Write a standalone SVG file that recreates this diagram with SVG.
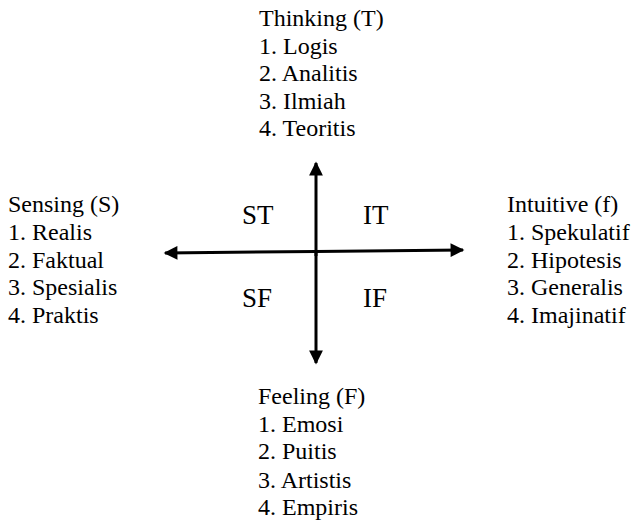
<svg xmlns="http://www.w3.org/2000/svg" width="634" height="526" viewBox="0 0 634 526">
<defs>
<style>
text{font-family:"Liberation Serif","Times New Roman",serif;fill:#000}
.t{font-size:24px}
.q{font-size:27px}
.ax{stroke:#000;stroke-width:3;fill:none}
</style>
<marker id="ah" viewBox="0 0 10 10" refX="9" refY="5" markerWidth="5" markerHeight="4.6" markerUnits="strokeWidth" orient="auto">
<path d="M0,0 L10,5 L0,10 Z" fill="#000"/>
</marker>
</defs>
<rect width="634" height="526" fill="#fff"/>
<g id="connectors">
<line class="ax" x1="316" y1="256" x2="316" y2="163" marker-end="url(#ah)"/>
<line class="ax" x1="316" y1="250" x2="316" y2="363" marker-end="url(#ah)"/>
<line class="ax" x1="316" y1="251.5" x2="165" y2="253" marker-end="url(#ah)"/>
<line class="ax" x1="316" y1="251.5" x2="463" y2="250" marker-end="url(#ah)"/>
</g>
<g id="thinking" class="t">
<text x="259" y="26">Thinking (T)</text>
<text x="259" y="53.5">1. Logis</text>
<text x="259" y="81">2. Analitis</text>
<text x="259" y="108.5">3. Ilmiah</text>
<text x="259" y="136">4. Teoritis</text>
</g>
<g id="sensing" class="t">
<text x="8" y="212">Sensing (S)</text>
<text x="8" y="240">1. Realis</text>
<text x="8" y="267.5">2. Faktual</text>
<text x="8" y="295">3. Spesialis</text>
<text x="8" y="322.5">4. Praktis</text>
</g>
<g id="intuitive" class="t">
<text x="507" y="212">Intuitive (f)</text>
<text x="507" y="240">1. Spekulatif</text>
<text x="507" y="267.5">2. Hipotesis</text>
<text x="507" y="295">3. Generalis</text>
<text x="507" y="322.5">4. Imajinatif</text>
</g>
<g id="feeling" class="t">
<text x="258" y="403.5">Feeling (F)</text>
<text x="258" y="431.5">1. Emosi</text>
<text x="258" y="459">2. Puitis</text>
<text x="258" y="487.5">3. Artistis</text>
<text x="258" y="515">4. Empiris</text>
</g>
<g id="quadrants" class="q">
<text x="242" y="224">ST</text>
<text x="363" y="224">IT</text>
<text x="242" y="307">SF</text>
<text x="363" y="307">IF</text>
</g>
</svg>
